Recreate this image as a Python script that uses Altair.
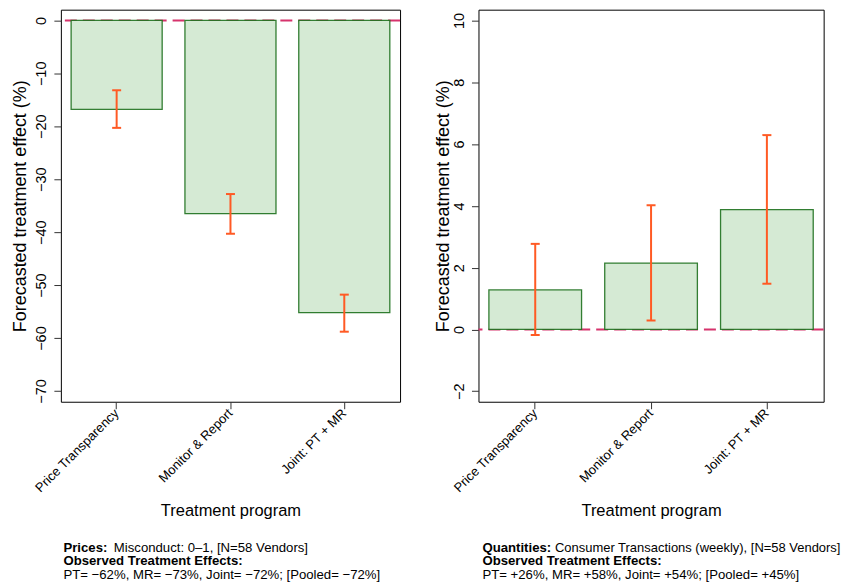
import altair as alt
import pandas as pd

# ---------------- data ----------------
programs = ["Price Transparency", "Monitor & Report", "Joint: PT + MR"]

price_effect = [-16.8, -36.5, -55.2]
price_ci_low = [-20.3, -40.3, -58.8]
price_ci_high = [-13.2, -32.8, -51.8]

qty_effect = [1.28, 2.15, 3.88]
qty_ci_low = [-0.18, 0.29, 1.48]
qty_ci_high = [2.77, 4.02, 6.29]

price_ticks = [-70, -60, -50, -40, -30, -20, -10, 0]
qty_ticks = [-2, 0, 2, 4, 6, 8, 10]
price_domain = [-72.03, 2.02]
qty_domain = [-2.34, 10.35]

reference_line = [0]

obs_head = "Observed Treatment Effects:"
price_caption_head = "Prices:"
price_caption_rest = "Misconduct: 0\u20131, [N=58 Vendors]"
price_caption_obs = "PT= \u221262%, MR= \u221273%, Joint= \u221272%; [Pooled= \u221272%]"
qty_caption_head = "Quantities:"
qty_caption_rest = "Consumer Transactions (weekly), [N=58 Vendors]"
qty_caption_obs = "PT= +26%, MR= +58%, Joint= +54%; [Pooled= +45%]"

# ---------------- style ----------------
FONT = "Liberation Sans"
PINK = "#D6336C"
ERR = "#FF5A24"
FILL = "#D5EAD4"
EDGE = "#126812"
HEIGHT = 393
CAP_FS = 13.2


def panel(effect, lo, hi, domain, ticks, width, title_x,
          head, rest, rest_dx, rest_fs, obs, cap_x):
    df = pd.DataFrame({"program": programs, "effect": effect,
                       "lo": lo, "hi": hi, "base": [0] * len(programs)})

    def X():
        return alt.X(
            "program:N", sort=programs,
            scale=alt.Scale(paddingInner=0.2, paddingOuter=0.09),
            axis=alt.Axis(
                title="Treatment program", titleFontSize=16.5,
                titleY=114.5, titleBaseline="alphabetic",
                titleFontWeight="normal",
                labelAngle=-45, labelAlign="right", labelBaseline="middle",
                labelPadding=2, labelFontSize=13, labelOverlap=False,
                tickSize=7, domain=False, grid=False,
            ),
        )

    def Y(field):
        return alt.Y(
            field + ":Q",
            scale=alt.Scale(domain=domain, nice=False),
            axis=alt.Axis(
                values=ticks, title="Forecasted treatment effect (%)",
                titleFontSize=18, titleX=title_x, titleY=HEIGHT / 2,
                titleAngle=270, titleAlign="center",
                titleBaseline="alphabetic", titleFontWeight="normal",
                labelAngle=270, labelAlign="center",
                labelBaseline="alphabetic", labelPadding=8,
                labelFontSize=14.5, labelOverlap=False, labelFlush=False,
                tickSize=7, domain=False, grid=False,
            ),
        )

    zero = alt.Chart(pd.DataFrame({"effect": reference_line})).mark_rule(
        color=PINK, strokeDash=[12, 6], strokeWidth=2
    ).encode(y=Y("effect"))

    bars = alt.Chart(df).mark_bar(
        fill=FILL, stroke=EDGE, strokeWidth=1.3, strokeOpacity=0.85
    ).encode(x=X(), y=Y("effect"), y2="base:Q")

    err = alt.Chart(df).mark_rule(color=ERR, strokeWidth=2).encode(
        x=X(), y=Y("lo"), y2="hi:Q")
    cap_lo = alt.Chart(df).mark_tick(color=ERR, thickness=2, size=9,
                                     opacity=1).encode(x=X(), y=Y("lo"))
    cap_hi = alt.Chart(df).mark_tick(color=ERR, thickness=2, size=9,
                                     opacity=1).encode(x=X(), y=Y("hi"))

    def txt(s, x, y, bold, fs=CAP_FS):
        return alt.Chart(pd.DataFrame({"t": [s]})).mark_text(
            align="left", baseline="alphabetic", font=FONT,
            fontSize=fs, fontWeight="bold" if bold else "normal",
            color="black",
        ).encode(x=alt.value(x), y=alt.value(y), text="t:N")

    captions = [
        txt(head, cap_x, 543.6, True),
        txt(rest, cap_x + rest_dx, 543.6, False, rest_fs),
        txt(obs_head, cap_x, 557.0, True),
        txt(obs, cap_x, 570.6, False),
    ]

    return alt.layer(zero, bars, err, cap_lo, cap_hi, *captions).properties(
        width=width, height=HEIGHT)


left = panel(price_effect, price_ci_low, price_ci_high, price_domain,
             price_ticks, 340, -35, price_caption_head, price_caption_rest,
             50.5, CAP_FS, price_caption_obs, 2.6)
right = panel(qty_effect, qty_ci_low, qty_ci_high, qty_domain,
              qty_ticks, 346, -29.7, qty_caption_head, qty_caption_rest,
              72.7, 13.0, qty_caption_obs, 4.0)

chart = alt.hconcat(left, right, spacing=78.6, bounds="flush").properties(
    padding={"left": 3, "top": 0, "right": 0, "bottom": 0}
).configure(font=FONT).configure_view(
    stroke="black", strokeWidth=1
).configure_axis(
    labelFont=FONT, titleFont=FONT, labelColor="black", titleColor="black",
    tickColor="#333333", tickWidth=1,
)

chart.save("out.html", embed_options={"renderer": "svg", "actions": False})
